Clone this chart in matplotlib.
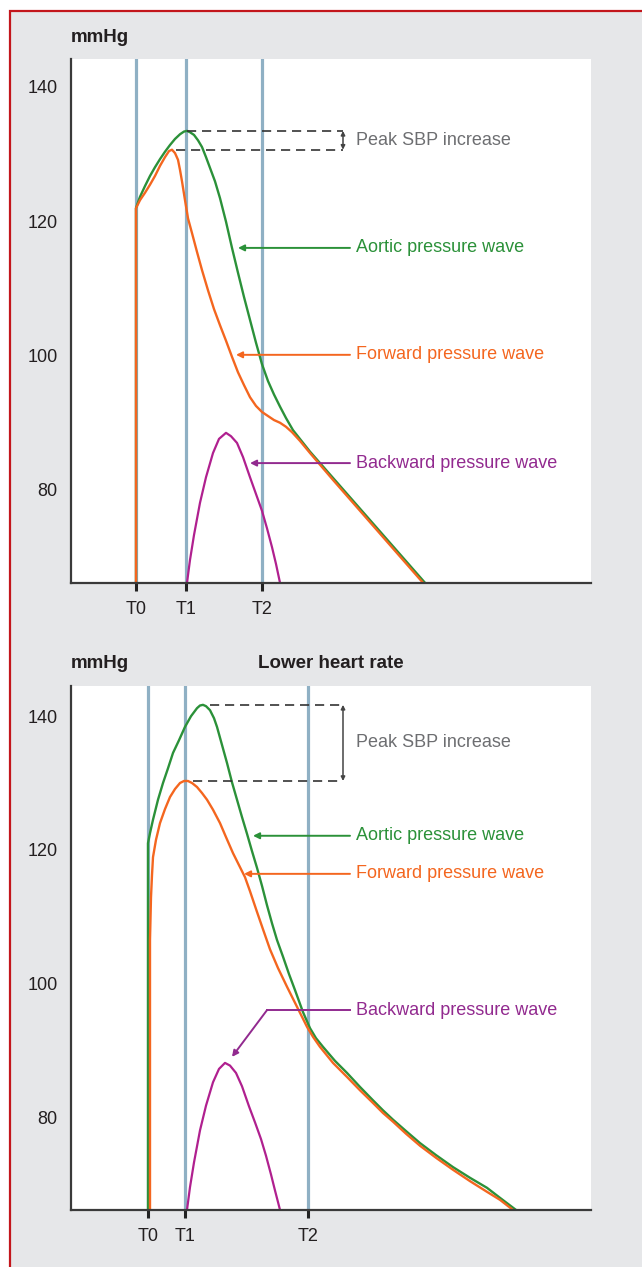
import matplotlib
matplotlib.use('Agg')
import matplotlib.pyplot as plt
from matplotlib.patches import Rectangle

# ---------------- data (time in arbitrary units, pressure in mmHg) ----------------
tick_labels = ['T0', 'T1', 'T2']
yticks = [80, 100, 120, 140]

# Top panel
top_T = [65, 115, 191]
top_aortic_x = [65, 65, 67, 69, 74, 79, 84, 89, 94, 99, 104, 109, 113, 116, 119, 123, 127, 131, 135,
                139, 144, 149, 155, 161, 167, 173, 179, 185, 191, 197, 203, 209, 215, 222, 239, 262, 354]
top_aortic_y = [66, 121.9, 122.8, 123.6, 125.2, 126.7, 128.0, 129.2, 130.3, 131.3, 132.2, 132.9, 133.3,
                133.4, 133.2, 132.8, 132.0, 131.0, 129.5, 127.9, 125.9, 123.4, 119.9, 116.0, 112.3,
                108.7, 105.3, 101.9, 98.7, 96.2, 94.2, 92.4, 90.7, 88.9, 85.7, 81.8, 66.2]
top_forward_x = [65, 65, 69, 74, 79, 84, 89, 94, 98, 101, 104, 107, 109, 111, 114, 117, 121, 126, 131,
                 137, 143, 149, 155, 161, 167, 173, 179, 185, 191, 197, 203, 209, 215, 221, 229, 239,
                 262, 352]
top_forward_y = [66, 121.9, 123.1, 124.2, 125.4, 126.7, 128.2, 129.5, 130.4, 130.6, 130.1, 129.1, 127.6,
                 125.9, 123.1, 120.4, 118.2, 115.4, 112.7, 109.7, 106.9, 104.5, 102.2, 99.8, 97.5,
                 95.6, 93.8, 92.5, 91.6, 91.0, 90.4, 90.0, 89.4, 88.6, 87.3, 85.5, 81.5, 66.2]
top_backward_x = [116, 119, 123, 129, 135, 142, 148, 155, 160, 166, 172, 179, 185, 191, 196, 201, 205, 209]
top_backward_y = [66.2, 69.6, 73.3, 78.1, 81.9, 85.5, 87.6, 88.5, 88.0, 87.0, 84.9, 81.9, 79.4, 76.9,
                  74.3, 71.5, 69.0, 66.2]

# Bottom panel ("Lower heart rate")
bot_T = [77, 114, 237]
bot_aortic_x = [77, 77, 79, 82, 87, 92, 97, 102, 108, 114, 120, 126, 129, 132, 135, 139, 143, 146, 151,
                156, 161, 166, 171, 176, 181, 186, 191, 196, 201, 206, 212, 218, 224, 232, 239, 245,
                252, 264, 276, 289, 302, 312, 322, 335, 349, 365, 382, 399, 416, 429, 444]
bot_aortic_y = [66, 121.0, 122.5, 124.5, 127.5, 130.0, 132.2, 134.5, 136.4, 138.4, 140.0, 141.2, 141.6,
                141.7, 141.5, 140.9, 139.7, 138.4, 135.7, 133.0, 130.1, 127.5, 124.9, 122.4, 119.8,
                117.3, 114.6, 111.7, 109.0, 106.5, 104.0, 101.4, 99.0, 95.7, 93.3, 91.8, 90.5, 88.4,
                86.6, 84.5, 82.5, 81.0, 79.6, 77.9, 76.1, 74.3, 72.5, 70.9, 69.4, 67.9, 66.2]
bot_forward_x = [79, 79, 80, 81, 82, 85, 89, 94, 99, 104, 109, 113, 117, 121, 126, 131, 136, 142, 149,
                 155, 162, 168, 174, 179, 186, 192, 199, 207, 216, 223, 229, 236, 242, 249, 262, 276,
                 289, 302, 312, 322, 335, 349, 365, 382, 399, 416, 429, 441]
bot_forward_y = [66, 106.5, 112.9, 116.2, 118.9, 121.5, 124.0, 126.1, 127.9, 129.1, 130.0, 130.3, 130.3,
                 130.0, 129.4, 128.5, 127.5, 126.0, 124.0, 121.9, 119.5, 117.7, 115.9, 113.8, 110.7,
                 108.1, 105.1, 102.3, 99.5, 97.4, 95.6, 93.5, 92.0, 90.5, 88.1, 86.0, 84.0, 82.1,
                 80.6, 79.3, 77.5, 75.7, 73.9, 72.1, 70.4, 68.8, 67.6, 66.2]
bot_backward_x = [116, 119, 123, 129, 135, 142, 148, 154, 159, 165, 171, 178, 184, 190, 195, 200, 204, 209]
bot_backward_y = [66.1, 69.5, 73.2, 78.0, 81.7, 85.2, 87.2, 88.1, 87.7, 86.6, 84.6, 81.6, 79.2, 76.7,
                  74.2, 71.4, 69.0, 66.1]

# ---------------- style ----------------
W, H = 642, 1267
GREEN = '#2b9139'
ORANGE = '#f4661f'
MAGENTA = '#b0208f'
PURPLE = '#922a8f'
GRAYTXT = '#6d6e71'
VLINE = '#8fb0c4'
FONT = ['Liberation Sans Narrow', 'Liberation Sans', 'DejaVu Sans']
plt.rcParams['font.family'] = FONT

fig = plt.figure(figsize=(W / 100, H / 100), dpi=100)
fig.patch.set_facecolor('white')
bg = Rectangle((10 / W, -0.01), 1.0, (H - 11) / H + 0.01,
               transform=fig.transFigure, facecolor='#e6e7e9',
               edgecolor='#c3161c', lw=1.6, zorder=-10)
fig.patches.append(bg)


def setup(ax, T, ylim):
    ax.set_facecolor('white')
    ax.set_xlim(0, 520)
    ax.set_ylim(*ylim)
    for s in ['top', 'right']:
        ax.spines[s].set_visible(False)
    for s in ['left', 'bottom']:
        ax.spines[s].set_color('#3a3a3a')
        ax.spines[s].set_linewidth(1.6)
        ax.spines[s].set_zorder(6)
    ax.set_xticks(T)
    ax.set_xticklabels(tick_labels)
    ax.set_yticks(yticks)
    ax.tick_params(axis='x', direction='out', length=6, width=2.2, color='#222222',
                   labelsize=13, pad=7, labelcolor='#231f20')
    ax.tick_params(axis='y', length=0, labelsize=13, pad=9.5, labelcolor='#231f20')
    for t in T:
        ax.axvline(t, color=VLINE, lw=2.3, zorder=1)


def label_arrow(ax, text, y, x_tip, color, x_from=279, x_text=285):
    ax.annotate('', xy=(x_tip, y), xytext=(x_from, y),
                arrowprops=dict(arrowstyle='-|>', color=color, lw=1.4,
                                mutation_scale=9, shrinkA=0, shrinkB=0), zorder=5)
    ax.text(x_text, y, text, color=color, fontsize=13, va='center', ha='left')


def peak_marker(ax, y_hi, x_hi, y_lo, x_lo, y_text):
    ax.plot([x_hi, 272], [y_hi, y_hi], ls=(0, (5.5, 3.5)), color='#333333', lw=1.2, zorder=4)
    ax.plot([x_lo, 272], [y_lo, y_lo], ls=(0, (5.5, 3.5)), color='#333333', lw=1.2, zorder=4)
    ax.annotate('', xy=(272, y_hi), xytext=(272, y_lo),
                arrowprops=dict(arrowstyle='<|-|>', color='#444444', lw=1.1,
                                mutation_scale=6, shrinkA=0, shrinkB=0), zorder=5)
    ax.text(285, y_text, 'Peak SBP increase', color=GRAYTXT, fontsize=13,
            va='center', ha='left')


# ---------------- top panel ----------------
ax1 = fig.add_axes([71 / W, (H - 583) / H, 520 / W, 524 / H])
setup(ax1, top_T, (66.17, 144.09))
ax1.plot(top_backward_x, top_backward_y, color=MAGENTA, lw=1.6, zorder=3, solid_joinstyle='round')
ax1.plot(top_aortic_x, top_aortic_y, color=GREEN, lw=1.7, zorder=3, solid_joinstyle='round')
ax1.plot(top_forward_x, top_forward_y, color=ORANGE, lw=1.7, zorder=3, solid_joinstyle='round')
peak_marker(ax1, max(top_aortic_y), 116, max(top_forward_y), 105, 132.0)
label_arrow(ax1, 'Aortic pressure wave', 116.0, 167, GREEN)
label_arrow(ax1, 'Forward pressure wave', 100.1, 165, ORANGE)
label_arrow(ax1, 'Backward pressure wave', 84.0, 179, PURPLE)

fig.text(71 / W, 1 - 38 / H, 'mmHg', fontsize=13.5, fontweight='bold', va='center',
         ha='left', color='#231f20')

# ---------------- bottom panel ----------------
ax2 = fig.add_axes([71 / W, (H - 1210) / H, 520 / W, 524 / H])
setup(ax2, bot_T, (66.08, 144.52))
ax2.plot(bot_backward_x, bot_backward_y, color=MAGENTA, lw=1.6, zorder=3, solid_joinstyle='round')
ax2.plot(bot_aortic_x, bot_aortic_y, color=GREEN, lw=1.7, zorder=3, solid_joinstyle='round')
ax2.plot(bot_forward_x, bot_forward_y, color=ORANGE, lw=1.7, zorder=3, solid_joinstyle='round')
peak_marker(ax2, max(bot_aortic_y), 139, max(bot_forward_y), 122, 136.1)
label_arrow(ax2, 'Aortic pressure wave', 122.1, 182, GREEN)
label_arrow(ax2, 'Forward pressure wave', 116.4, 173, ORANGE)
# backward label with an elbow arrow
ax2.plot([279, 196], [96.0, 96.0], color=PURPLE, lw=1.4, zorder=5)
ax2.annotate('', xy=(161, 89.0), xytext=(196, 96.0),
             arrowprops=dict(arrowstyle='-|>', color=PURPLE, lw=1.4,
                             mutation_scale=9, shrinkA=0, shrinkB=0), zorder=5)
ax2.text(285, 96.0, 'Backward pressure wave', color=PURPLE, fontsize=13,
         va='center', ha='left')

fig.text(71 / W, 1 - 663 / H, 'mmHg', fontsize=13.5, fontweight='bold', va='center',
         ha='left', color='#231f20')
fig.text(258 / W, 1 - 663 / H, 'Lower heart rate', fontsize=13.5, fontweight='bold',
         va='center', ha='left', color='#231f20')

fig.savefig('out.png', dpi=100, facecolor=fig.get_facecolor())
